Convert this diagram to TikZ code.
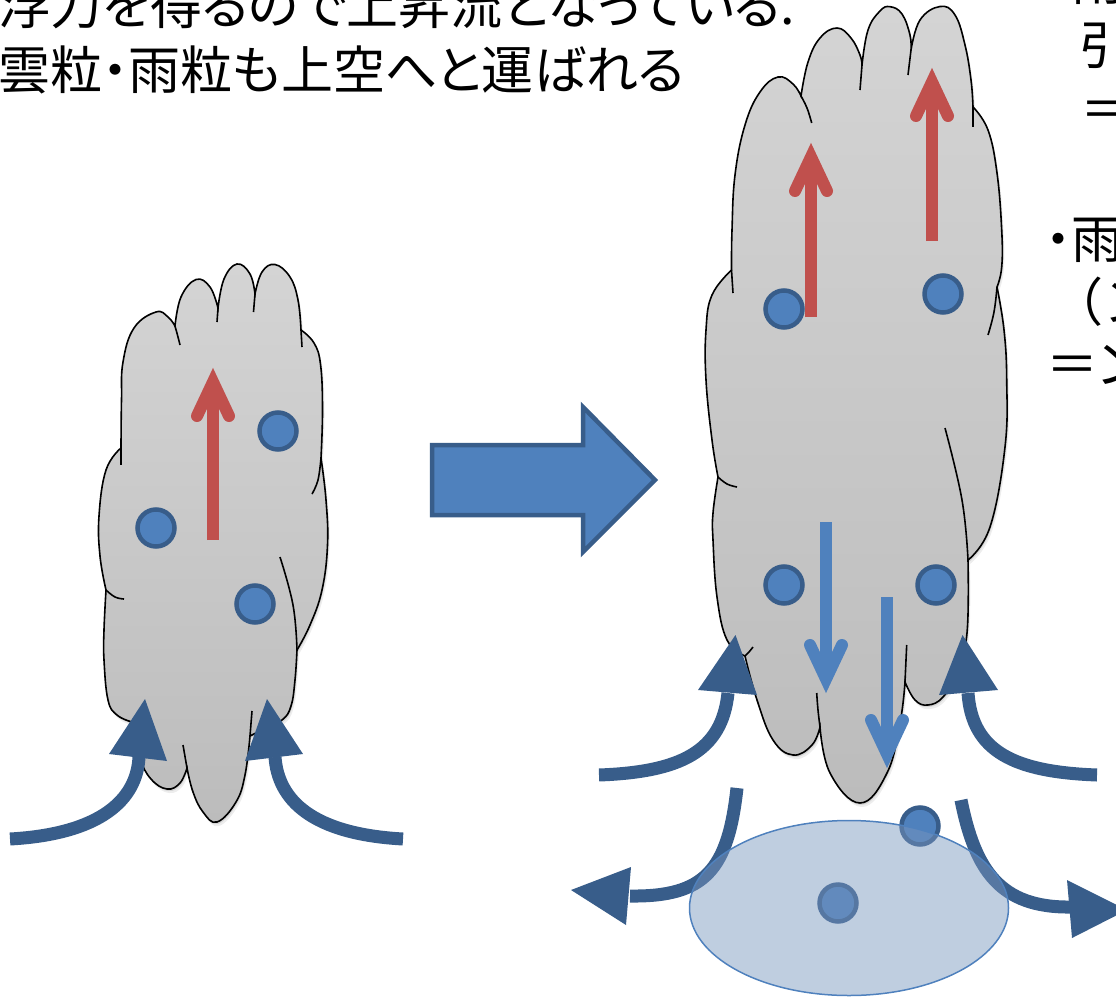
\documentclass[tikz,border=0pt]{standalone}
\usepackage{tikz}
\usetikzlibrary{shapes.geometric}
\usepackage{fontspec}
\newfontfamily\jp[RawFeature=+palt]{Noto Sans CJK JP}
\newfontfamily\jpfull{Noto Sans CJK JP}
\definecolor{obl}{HTML}{4F81BD}
\definecolor{obd}{HTML}{385D8A}
\definecolor{ored}{HTML}{C0504D}
\definecolor{cloudtop}{RGB}{212,212,212}
\definecolor{cloudbot}{RGB}{188,188,188}
\definecolor{pool}{RGB}{120,150,190}

% straight arrow with an open barbed head: colour, x, y of tail, y of tip
\newcommand{\barbarrow}[4]{%
  \pgfmathsetmacro\bsgn{sign(#4-#3)}%
  \pgfmathsetmacro\bty{#4-14*\bsgn}%
  \pgfmathsetmacro\bwy{\bty-34*\bsgn}%
  \draw[#1, line width=12pt] (#2,#3) -- (#2,\bty);
  \draw[#1, line width=12pt, line cap=round, line join=miter] (#2-16,\bwy) -- (#2,\bty) -- (#2+16,\bwy);
}

% outlines of the two clouds
\def\smallcloud{%
  plot[lobe] coordinates {(121,448) (121.5,400) (123,362) (134,328) (156,312) (168,317) (175,326)}
  -- plot[lobe] coordinates {(175,326) (181,297) (196,279.5) (210,287) (218,308)}
  -- plot[lobe] coordinates {(218,308) (224,279) (237,264) (250,274) (255,294)}
  -- plot[lobe] coordinates {(255,294) (262,272) (275,264.5) (290,277) (298,300) (301,330)}
  -- plot[lobe] coordinates {(301,330) (314,343) (320.6,365) (322.5,410) (321,458)}
  -- plot[lobe] coordinates {(321,458) (326,500) (327.5,545) (322,590) (310,625) (297,650)}
  -- plot[lobe] coordinates {(297,650) (295,680) (291,706) (282,720) (262,730) (250,736)}
  -- plot[lobe] coordinates {(250,736) (245,775) (236,802) (217,822) (203,812) (193,792) (187,768)}
  -- plot[lobe] coordinates {(187,768) (180,783) (167,789) (151,779) (140,758) (132,722)}
  -- plot[lobe] coordinates {(132,722) (117,715) (108,700) (104,660) (104,630) (106,590)}
  -- plot[lobe] coordinates {(106,590) (100,556) (99,516) (106,470) (121,448)}
  -- cycle}
\def\bigcloud{%
  plot[lobe] coordinates {(731.5,270) (732,230) (735,175) (745,125) (760,92) (778,77) (793,84) (801,96)}
  -- plot[lobe] coordinates {(801,96) (808,62) (820,38) (837,28) (851,38) (860,55) (862,65)}
  -- plot[lobe] coordinates {(862,65) (868,30) (880,11) (890,6.7) (902,14) (910,35) (911,50)}
  -- plot[lobe] coordinates {(911,50) (920,20) (940,6.5) (955,15) (965,45) (971,80) (973,107)}
  -- plot[lobe] coordinates {(973,107) (988,130) (997,173) (1001.7,230) (1001.7,267) (997,287)}
  -- plot[lobe] coordinates {(997,287) (1004,330) (1006.7,380) (1005,447) (990,527) (968,560)}
  -- plot[lobe] coordinates {(968,560) (967,633) (957,673) (943,697) (928,705) (915,700) (905,682)}
  -- plot[lobe] coordinates {(905,682) (900,723) (887,773) (860,803) (830,773) (820,727)}
  -- plot[lobe] coordinates {(820,727) (812,745) (793,755) (773,740) (757,700) (745,656)}
  -- plot[lobe] coordinates {(745,656) (727,640) (717,597) (713,540) (713,513) (718,477)}
  -- plot[lobe] coordinates {(718,477) (712,440) (706,380) (706,330) (712,295) (731.5,270)}
  -- cycle}

\begin{document}
\begin{tikzpicture}[x=1pt,y=-1pt,
  cloud/.style={draw=black, line width=1.6pt, top color=cloudtop, bottom color=cloudbot},
  shade1/.style={fill=black, opacity=0.10, shift={(1,2)}},
  shade2/.style={fill=black, opacity=0.07, shift={(2,4)}},
  seam/.style={draw=black, line width=1.6pt},
  drop/.style={circle, fill=obl, draw=obd, line width=4.5pt, minimum size=37pt, inner sep=0pt},
  flow/.style={draw=obd, line width=13pt},
  flowhead/.style={fill=obd},
  txt/.style={anchor=base west, inner sep=0pt, font=\jp\fontsize{52}{52}\selectfont},
  txtfull/.style={anchor=base west, inner sep=0pt, font=\jpfull\fontsize{52}{52}\selectfont},
  lobe/.style={smooth, tension=0.7}]
\clip (0,0) rectangle (1116,998);

% ---------- text ----------
\node[txt] (l1) at (-2,25) {浮力を得るので上昇流となっている.};
\node[txt] (l2) at (-2,89) {雲粒・雨粒も上空へと運ばれる};
\node[txt] (r0) at (1045,1) {・雨};
\node[txt] (r1) at (1079,65) {引};
\node[txt] (r2) at (1080,128) {＝};
\node[txt] (r3) at (1045,258) {・雨};
\node[txtfull] (r4) at (1051,321) {（ン};
\node[txt] (r5) at (1046,383) {＝ン};

% ---------- small cloud ----------
\path[shade2] \smallcloud;
\path[shade1] \smallcloud;
\path[cloud] \smallcloud;
\draw[seam] plot[lobe] coordinates {(175,326) (178,337) (180,345)};
\draw[seam] (218,308) -- (217,322);
\draw[seam] (255,294) -- (253.5,312);
\draw[seam] (301,330) -- (302,347);
\draw[seam] plot[lobe] coordinates {(321,458) (318,480) (312,494)};
\draw[seam] plot[lobe] coordinates {(297,650) (293,605) (280,557)};
\draw[seam] (250,736) -- (252,711);
\draw[seam] (187,768) -- (183,745);
\draw[seam] plot[lobe] coordinates {(132,722) (136,716) (140,713)};
\draw[seam] plot[lobe] coordinates {(106,590) (115,597) (124,599)};
\draw[seam] (121,448) -- (121,465);

\node[drop] (a1) at (278,431) {};
\node[drop] (a2) at (156,528) {};
\node[drop] (a3) at (255,604) {};
\barbarrow{ored}{213}{540}{368}

% inflow into the small cloud
\draw[flow] (10,839) .. controls (100,834) and (137,800) .. (139,757);
\fill[flowhead] (145,699) -- (109,754) -- (167,761) -- cycle;
\draw[flow] (403,839) .. controls (312,834) and (278,800) .. (275,757);
\fill[flowhead] (267,699) -- (245,761) -- (303,754) -- cycle;

% ---------- block arrow ----------
\path[fill=obl, draw=obd, line width=4.5pt, line join=miter]
  (432,445) -- (583,445) -- (583,407) -- (655,480) -- (583,552) -- (583,515) -- (432,515) -- cycle;

% ---------- large cloud ----------
\path[shade2] \bigcloud;
\path[shade1] \bigcloud;
\path[cloud] \bigcloud;
\draw[seam] plot[lobe] coordinates {(801,96) (807,108) (811.7,123)};
\draw[seam] (862,65) -- (860,90);
\draw[seam] (911,50) -- (908,75);
\draw[seam] (973,107) -- (973,127);
\draw[seam] plot[lobe] coordinates {(997,287) (994,312) (988,335)};
\draw[seam] plot[lobe] coordinates {(968,560) (962,500) (945,428)};
\draw[seam] plot[lobe] coordinates {(905,682) (906,660) (906.7,645)};
\draw[seam] plot[lobe] coordinates {(820,727) (818,710) (816.7,693)};
\draw[seam] plot[lobe] coordinates {(745,656) (749,652) (753,647)};
\draw[seam] plot[lobe] coordinates {(718,477) (727,484) (737,487)};
\draw[seam] (731.5,270) -- (733,293);

\node[drop] (b1) at (784,309) {};
\node[drop] (b2) at (943,294) {};
\node[drop] (b3) at (784,585) {};
\node[drop] (b4) at (936,585) {};
\barbarrow{ored}{811}{317}{143}
\barbarrow{ored}{932}{241}{68}
\barbarrow{obl}{826}{522}{693}
\barbarrow{obl}{887}{597}{768}

% inflow and outflow around the large cloud
\draw[flow] (599,775) .. controls (680,772) and (722,752) .. (728,693);
\fill[flowhead] (735.5,635) -- (698,690) -- (757,695) -- cycle;
\draw[flow] (1097,775) .. controls (1015,772) and (972,752) .. (968,693);
\fill[flowhead] (962.5,635) -- (939,695) -- (998,690) -- cycle;
\draw[flow] (737,788) .. controls (728,870) and (705,897) .. (630,896);
\fill[flowhead] (571,890) -- (631,867) -- (626,925) -- cycle;
\draw[flow] (961,800) .. controls (975,870) and (1000,908) .. (1071,907);
\fill[flowhead] (1127,910) -- (1067,880) -- (1072,938) -- cycle;

\node[drop] (c1) at (920,826) {};
\node[drop] (c2) at (838,903) {};

% rain pool on the ground
\node[ellipse, draw=obl, line width=1.5pt, fill=pool, fill opacity=0.47,
      minimum width=319pt, minimum height=175pt, inner sep=0pt] (pool) at (849,908) {};
\end{tikzpicture}
\end{document}
